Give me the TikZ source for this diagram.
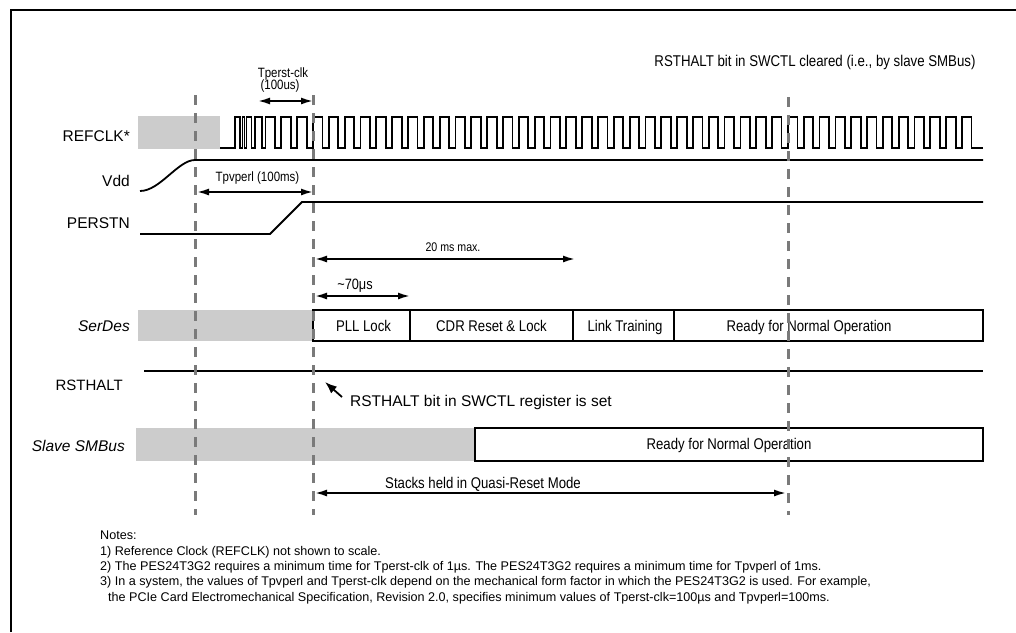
\documentclass[tikz,border=0pt]{standalone}
\usepackage{fontspec}
\setmainfont{Liberation Sans}
\newfontfamily\narrowfont{Liberation Sans}[FakeStretch=0.85]
\usetikzlibrary{arrows.meta}
\definecolor{fillgray}{HTML}{CCCCCC}
\definecolor{dashgray}{HTML}{7A7A7A}
\begin{document}
\begin{tikzpicture}[x=1pt,y=-1pt,
  sig/.style={line width=1.8pt},
  boxed/.style={draw, line width=1.8pt, inner sep=0pt, minimum height=31pt},
  guide/.style={dashgray, line width=3pt, dash pattern=on 10pt off 8pt},
  dim/.style={line width=1.8pt, {Latex[length=12pt,width=7pt]}-{Latex[length=12pt,width=7pt]}},
  lbl/.style={inner sep=0pt, text height=11pt, text depth=0pt, font=\fontsize{15.5}{18}\selectfont},
  boxlbl/.style={inner sep=0pt, text height=10pt, text depth=0pt, font=\narrowfont\fontsize{15.5}{18}\selectfont},
  small/.style={inner sep=0pt, text height=9.5pt, text depth=0pt, font=\narrowfont\fontsize{13.5}{16}\selectfont},
  note/.style={inner sep=0pt, text height=9pt, text depth=0pt, anchor=west, font=\fontsize{12.6}{15}\selectfont}
]
\useasboundingbox (0,0) rectangle (1016,632);
\fill[white] (0,0) rectangle (1016,632);
% frame
\draw[line width=2.2pt] (11,632) -- (11,10) -- (1016,10);

% top note
\node[lbl, font=\narrowfont\fontsize{15.6}{18}\selectfont] (clr) at (815,61) {RSTHALT bit in SWCTL cleared (i.e., by slave SMBus)};

% signal labels
\node[lbl, anchor=east] (lrefclk) at (130,136) {REFCLK*};
\node[lbl, anchor=east] (lvdd) at (130,181) {Vdd};
\node[lbl, anchor=east] (lperstn) at (130,223) {PERSTN};
\node[lbl, anchor=east, font=\itshape\fontsize{15.5}{18}\selectfont] (lserdes) at (130,326) {SerDes};
\node[lbl, anchor=east, font=\fontsize{15}{18}\selectfont] (lrsthalt) at (123,385) {RSTHALT};
\node[lbl, anchor=east, font=\itshape\fontsize{15.5}{18}\selectfont] (lsmbus) at (125,446) {Slave SMBus};

% shaded regions
\fill[fillgray] (138,116) rectangle (220,149);
\fill[fillgray] (138,310) rectangle (313,341);
\fill[fillgray] (136,428) rectangle (475,461);

% REFCLK waveform
\draw[sig] (220,148) -- (235,148) -- (235,117) -- (240,117) -- (240,148) -- (242.5,148)
  -- (242.5,117) -- (244.5,117) -- (244.5,148) -- (246.5,148) -- (246.5,117) -- (251.5,117) -- (251.5,148)
  -- (255,148) -- (255,117) -- (262,117) -- (262,148)
  \foreach \k [evaluate=\k as \xr using 313+15.83*\k] in {-3,...,41}
    { -- (\xr,148) -- (\xr,117) -- ({\xr+9.5},117) -- ({\xr+9.5},148) }
  -- (983,148);

% Vdd
\draw[sig] (140,191) .. controls (160,191) and (178,160) .. (195,160) -- (983,160);
% PERSTN
\draw[sig] (140,234) -- (270,234) -- (302,202) -- (983,202);
% RSTHALT
\draw[sig] (144,371) -- (983,371);

% SerDes boxes
\node[boxed, minimum width=97pt] (pll) at (361.5,325.5) {};
\node[boxed, minimum width=163pt] (cdr) at (491.5,325.5) {};
\node[boxed, minimum width=101pt] (link) at (623.5,325.5) {};
\node[boxed, minimum width=309pt] (ready1) at (828.5,325.5) {};
\node[boxlbl] (tpll) at (363.5,326) {PLL Lock};
\node[boxlbl] (tcdr) at (491.5,326) {CDR Reset \& Lock};
\node[boxlbl] (tlink) at (625,326) {Link Training};
\node[boxlbl] (tready1) at (809,326) {Ready for Normal Operation};

% Slave SMBus box
\node[boxed, minimum width=508pt, minimum height=33pt] (ready2) at (729,444.5) {};
\node[boxlbl] (tready2) at (729,444) {Ready for Normal Operation};

% timing annotations
\node[small] (ttc) at (283,72.5) {Tperst-clk};
\node[small] (ttc2) at (280,85) {(100us)};
\coordinate (tc1) at (258,101);
\coordinate (tc2) at (313,101);
\draw[dim] (tc1) -- (tc2);

\node[small] (tpv) at (257.5,177) {Tpvperl (100ms)};
\coordinate (pv1) at (197,192);
\coordinate (pv2) at (313,192);
\draw[dim] (pv1) -- (pv2);

\node[small, font=\narrowfont\fontsize{12.5}{15}\selectfont] (t20) at (453,247) {20 ms max.};
\coordinate (m1) at (315,259);
\coordinate (m2) at (575,259);
\draw[dim] (m1) -- (m2);

\node[small, font=\narrowfont\fontsize{15}{15}\selectfont] (t70) at (355,285) {\textasciitilde70μs};
\coordinate (s1) at (315,296);
\coordinate (s2) at (410,296);
\draw[dim] (s1) -- (s2);

\node[boxlbl] (tstack) at (483,483) {Stacks held in Quasi-Reset Mode};
\coordinate (q1) at (315,493);
\coordinate (q2) at (786,493);
\draw[dim] (q1) -- (q2);

% RSTHALT set annotation
\node[lbl, anchor=west] (tset) at (350,401) {RSTHALT bit in SWCTL register is set};
\coordinate (pt) at (325,382);
\coordinate (ptail) at (342,397);
\draw[line width=1.8pt, -{Latex[length=12pt,width=9pt]}] (ptail) -- (pt);

% dashed guides
\draw[guide] (195,95) -- (195,515);
\draw[guide] (313,95) -- (313,515);
\draw[guide] (788,97) -- (788,515);

% notes
\node[note] (n0) at (100,535) {Notes:};
\node[note] (n1) at (100,551) {1) Reference Clock (REFCLK) not shown to scale.};
\node[note] (n2) at (100,566) {2) The PES24T3G2 requires a minimum time for Tperst-clk of 1µs. The PES24T3G2 requires a minimum time for Tpvperl of 1ms.};
\node[note] (n3) at (100,581) {3) In a system, the values of Tpvperl and Tperst-clk depend on the mechanical form factor in which the PES24T3G2 is used. For example,};
\node[note] (n4) at (108,597) {the PCIe Card Electromechanical Specification, Revision 2.0, specifies minimum values of Tperst-clk=100µs and Tpvperl=100ms.};
\end{tikzpicture}
\end{document}
